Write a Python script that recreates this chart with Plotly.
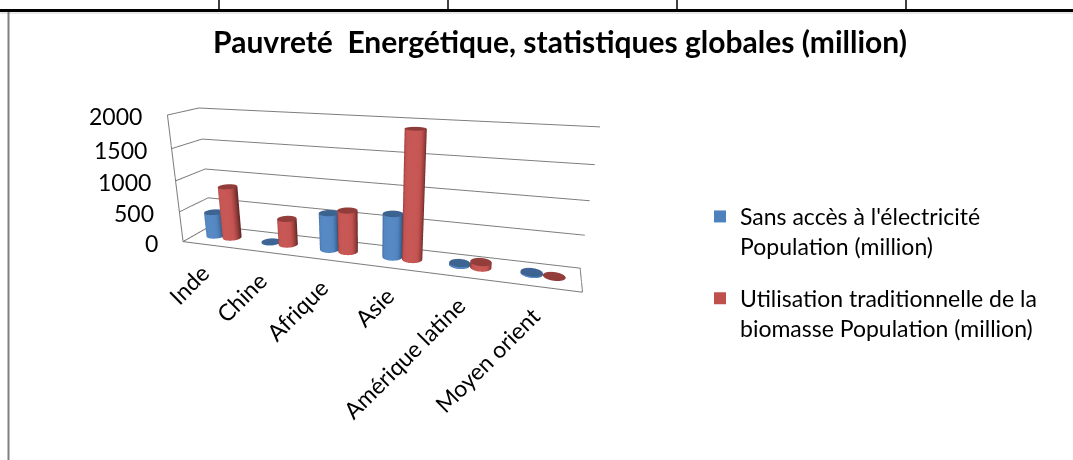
import numpy as np
import plotly.graph_objects as go

# ---- data (million people) ----
categories = ["Inde", "Chine", "Afrique", "Asie", "Amérique latine", "Moyen orient"]
sans_electricite = [404, 8, 587, 675, 31, 21]
biomasse = [855, 423, 657, 1921, 85, 0]
series_names = [
    "Sans accès à l'électricité<br>Population (million)",
    "Utilisation traditionnelle de la<br>biomasse Population (million)",
]
series_colors = ["#4F81BD", "#C0504D"]
z_ticks = [0, 500, 1000, 1500, 2000]
title_text = "Pauvreté  Energétique, statistiques globales (million)"

FONT = "Lato, Carlito, Calibri, sans-serif"
W, H = 1073, 460

# ---- 3D geometry of the chart box (category units) ----
X_MIN, X_MAX = -0.5, len(categories) - 0.5
DEPTH = 0.8
Y_MIN, Y_MAX = 0.0, DEPTH
Z_MIN, Z_MAX = 0, 2000
BAR_R = 0.15
BAR_OFFSETS = [-0.15, 0.15]
N_SEG = 48


def cylinders(values, dx):
    """Build one mesh holding a cylinder per category."""
    t = np.linspace(0, 2 * np.pi, N_SEG, endpoint=False)
    X, Y, Z, I, J, K = [], [], [], [], [], []
    base = 0
    for idx, v in enumerate(values):
        cx, cy = idx + dx, DEPTH / 2
        rx = cx + BAR_R * np.cos(t)
        ry = cy + BAR_R * np.sin(t)
        # bottom ring, top ring (side), top ring (cap), cap centre
        X += list(rx) + list(rx) + list(rx) + [cx]
        Y += list(ry) + list(ry) + list(ry) + [cy]
        Z += [0] * N_SEG + [v] * N_SEG + [v] * N_SEG + [v]
        for a in range(N_SEG):
            b = (a + 1) % N_SEG
            I += [base + a, base + b]
            J += [base + b, base + N_SEG + b]
            K += [base + N_SEG + a, base + N_SEG + a]
            I.append(base + 2 * N_SEG + a)
            J.append(base + 2 * N_SEG + b)
            K.append(base + 3 * N_SEG)
        base += 3 * N_SEG + 1
    return X, Y, Z, I, J, K


fig = go.Figure()

for vals, dx, name, col, grp in zip(
    [sans_electricite, biomasse], BAR_OFFSETS, series_names, series_colors, ["a", "b"]
):
    x, y, z, i, j, k = cylinders(vals, dx)
    fig.add_trace(go.Mesh3d(
        x=x, y=y, z=z, i=i, j=j, k=k, color=col, flatshading=False,
        lighting=dict(ambient=0.55, diffuse=0.65, specular=0.15, roughness=0.6, fresnel=0.1),
        lightposition=dict(x=-30000, y=-100000, z=80000),
        hoverinfo="skip", showlegend=False, legendgroup=grp, name=name,
    ))
    # legend entry
    fig.add_trace(go.Scatter3d(
        x=[None], y=[None], z=[None], mode="markers",
        marker=dict(symbol="square", size=11, color=col),
        name=name, legendgroup=grp, showlegend=True, hoverinfo="skip",
    ))

# floor outline and front edge of the side wall
frame_col = "#7c7c7c"
fig.add_trace(go.Scatter3d(
    x=[X_MIN, X_MAX, X_MAX, X_MIN, X_MIN, X_MIN],
    y=[Y_MIN, Y_MIN, Y_MAX, Y_MAX, Y_MIN, Y_MIN],
    z=[Z_MIN, Z_MIN, Z_MIN, Z_MIN, Z_MIN, Z_MAX],
    mode="lines", line=dict(color=frame_col, width=2),
    hoverinfo="skip", showlegend=False,
))

axis_common = dict(showbackground=False, showspikes=False, zeroline=False,
                   showline=False, showticklabels=False, ticks="", title=dict(text=""))

annotations = []
for idx, c in enumerate(categories):
    annotations.append(dict(
        x=idx, y=Y_MIN, z=0, text=c, showarrow=False, textangle=-45,
        xanchor="right", yanchor="top", xshift=7, yshift=-11,
        font=dict(family=FONT, size=23, color="black"),
    ))
for v in z_ticks:
    annotations.append(dict(
        x=X_MIN, y=Y_MIN, z=v, text=str(v), showarrow=False,
        xanchor="right", yanchor="middle", xshift=-23, yshift=-1,
        font=dict(family=FONT, size=23, color="black"),
    ))

# camera: azimuth / elevation of the eye, then a slight downward pitch of the view
D = 1.341
phi, eps, pitch = np.radians(17.5), np.radians(15.9), np.radians(20.0)
eye = np.array([np.sin(phi) * np.cos(eps), -np.cos(phi) * np.cos(eps), np.sin(eps)]) * D
view = np.array([-np.sin(phi) * np.cos(pitch), np.cos(phi) * np.cos(pitch), -np.sin(pitch)])
look = eye + view * D

fig.update_layout(
    width=W, height=H, margin=dict(l=0, r=0, t=0, b=0),
    paper_bgcolor="white", plot_bgcolor="white", hovermode=False,
    title=dict(text=title_text, x=560 / W, y=1 - 42 / H, xanchor="center", yanchor="middle",
               font=dict(family=FONT, size=30, color="black", weight="bold")),
    scene=dict(
        domain=dict(x=[0, 740 / W], y=[0, 1]),
        bgcolor="rgba(0,0,0,0)",
        xaxis=dict(range=[X_MIN, X_MAX], showgrid=False, **axis_common),
        yaxis=dict(range=[Y_MIN, Y_MAX], showgrid=False, **axis_common),
        zaxis=dict(range=[Z_MIN, Z_MAX], tickmode="array", tickvals=z_ticks, showgrid=True,
                   gridcolor=frame_col, gridwidth=2, **axis_common),
        aspectmode="manual",
        aspectratio=dict(x=1, y=DEPTH / (X_MAX - X_MIN), z=0.333),
        camera=dict(eye=dict(x=eye[0], y=eye[1], z=eye[2]),
                    center=dict(x=look[0], y=look[1], z=look[2]),
                    up=dict(x=0, y=0, z=1),
                    projection=dict(type="perspective")),
        annotations=annotations,
    ),
    legend=dict(x=700 / W, y=1 - 195 / H, xanchor="left", yanchor="top", valign="top",
                font=dict(family=FONT, size=23, color="black"),
                bgcolor="rgba(0,0,0,0)", tracegroupgap=19, itemsizing="constant"),
    shapes=[
        # page table rules
        dict(type="line", xref="paper", yref="paper", x0=0, x1=1, y0=1 - 10.5 / H, y1=1 - 10.5 / H,
             line=dict(color="black", width=3)),
        dict(type="line", xref="paper", yref="paper", x0=0, x1=1, y0=1 - 13 / H, y1=1 - 13 / H,
             line=dict(color="#d0d0d0", width=1)),
        dict(type="line", xref="paper", yref="paper", x0=8.5 / W, x1=8.5 / W, y0=0, y1=1 - 12 / H,
             line=dict(color="#808080", width=2)),
    ] + [
        dict(type="line", xref="paper", yref="paper", x0=xv / W, x1=xv / W, y0=1 - 9 / H, y1=1,
             line=dict(color="black", width=1.5))
        for xv in [219, 448, 677, 906]
    ],
)

fig.write_html("out.html")
